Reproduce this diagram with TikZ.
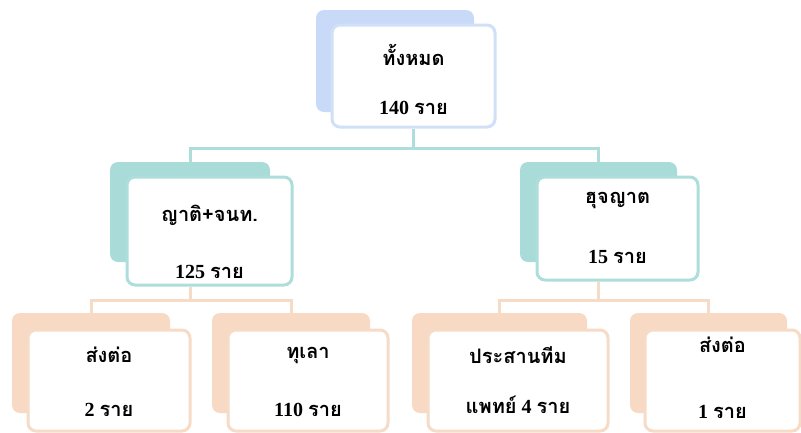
\documentclass[tikz,border=0pt]{standalone}
\usepackage{fontspec}
\setmainfont{Liberation Serif}
\newfontfamily\thai[Script=Thai]{Loma}
\usetikzlibrary{calc}
\definecolor{bluebk}{HTML}{C9DAF8}
\definecolor{blueln}{HTML}{D0E0F7}
\definecolor{tealbk}{HTML}{A9DCD9}
\definecolor{tealln}{HTML}{ADDEDB}
\definecolor{peachbk}{HTML}{F8D9C3}
\definecolor{peachln}{HTML}{F6DBC7}
\newcommand{\thx}[1]{{\thai\bfseries\fontsize{20}{22}\selectfont #1}}
\begin{document}
\begin{tikzpicture}[x=1pt,y=-1pt,
  front/.style={draw=#1, line width=3pt, fill=white, rounded corners=8pt, inner sep=0pt},
  back/.style={fill=#1, rounded corners=8pt, inner sep=0pt},
  conn/.style={draw=#1, line width=3pt},
  lbl/.style={font=\bfseries\fontsize{20}{22}\selectfont, inner sep=0pt, anchor=center}]
\useasboundingbox (0,0) rectangle (801,432);
% back plates
\node[back=bluebk, minimum width=158pt, minimum height=102pt] (topb) at (395,61) {};
\node[back=tealbk, minimum width=160pt, minimum height=100pt] (mlb) at (190,212) {};
\node[back=tealbk, minimum width=157pt, minimum height=100pt] (mrb) at (598.5,212) {};
\node[back=peachbk, minimum width=158pt, minimum height=100pt] (b1b) at (91,363) {};
\node[back=peachbk, minimum width=158pt, minimum height=100pt] (b2b) at (291,363) {};
\node[back=peachbk, minimum width=175pt, minimum height=100pt] (b3b) at (499.5,363) {};
\node[back=peachbk, minimum width=157pt, minimum height=100pt] (b4b) at (708.5,363) {};
% front boxes
\node[front=blueln, minimum width=163pt, minimum height=102pt] (top) at (413.5,76) {};
\node[front=tealln, minimum width=165pt, minimum height=108pt] (ml) at (209.5,231) {};
\node[front=tealln, minimum width=161pt, minimum height=103pt] (mr) at (617.5,228.5) {};
\node[front=peachln, minimum width=162pt, minimum height=101pt] (b1) at (109,380.5) {};
\node[front=peachln, minimum width=160pt, minimum height=101pt] (b2) at (308,380.5) {};
\node[front=peachln, minimum width=180pt, minimum height=101pt] (b3) at (518,380.5) {};
\node[front=peachln, minimum width=155pt, minimum height=101pt] (b4) at (722.5,380.5) {};
% connectors
\coordinate (jt) at (413.5,148);
\coordinate (jl) at (190,300);
\coordinate (jr) at (598.5,300);
\draw[conn=tealln] (top.south) -- (jt) -| (mlb.north);
\draw[conn=tealln] (jt) -| (mrb.north);
\draw[conn=peachln] (mlb.center |- ml.south) -- (jl) -| (b1b.north);
\draw[conn=peachln] (jl) -| (b2b.north);
\draw[conn=peachln] (mrb.center |- mr.south) -- (jr) -| (b3b.north);
\draw[conn=peachln] (jr) -| (b4b.north);
% labels
\node[lbl] (t1) at (413.5,55) {\thx{ทั้งหมด}};
\node[lbl] (t2) at (413.5,108) {140 \thx{ราย}};
\node[lbl] (ml1) at (209.5,215) {\thx{ญาติ+จนท.}};
\node[lbl] (ml2) at (209.5,272) {125 \thx{ราย}};
\node[lbl] (mr1) at (617.5,200) {\thx{ฮุจญาต}};
\node[lbl] (mr2) at (617.5,257) {15 \thx{ราย}};
\node[lbl] (b11) at (109,355) {\thx{ส่งต่อ}};
\node[lbl] (b12) at (109,410) {2 \thx{ราย}};
\node[lbl] (b21) at (308,355) {\thx{ทุเลา}};
\node[lbl] (b22) at (308,410) {110 \thx{ราย}};
\node[lbl] (b31) at (518,355) {\thx{ประสานทีม}};
\node[lbl] (b32) at (518,405) {\thx{แพทย์} 4 \thx{ราย}};
\node[lbl] (b41) at (722.5,345) {\thx{ส่งต่อ}};
\node[lbl] (b42) at (722.5,412) {1 \thx{ราย}};
\end{tikzpicture}
\end{document}
